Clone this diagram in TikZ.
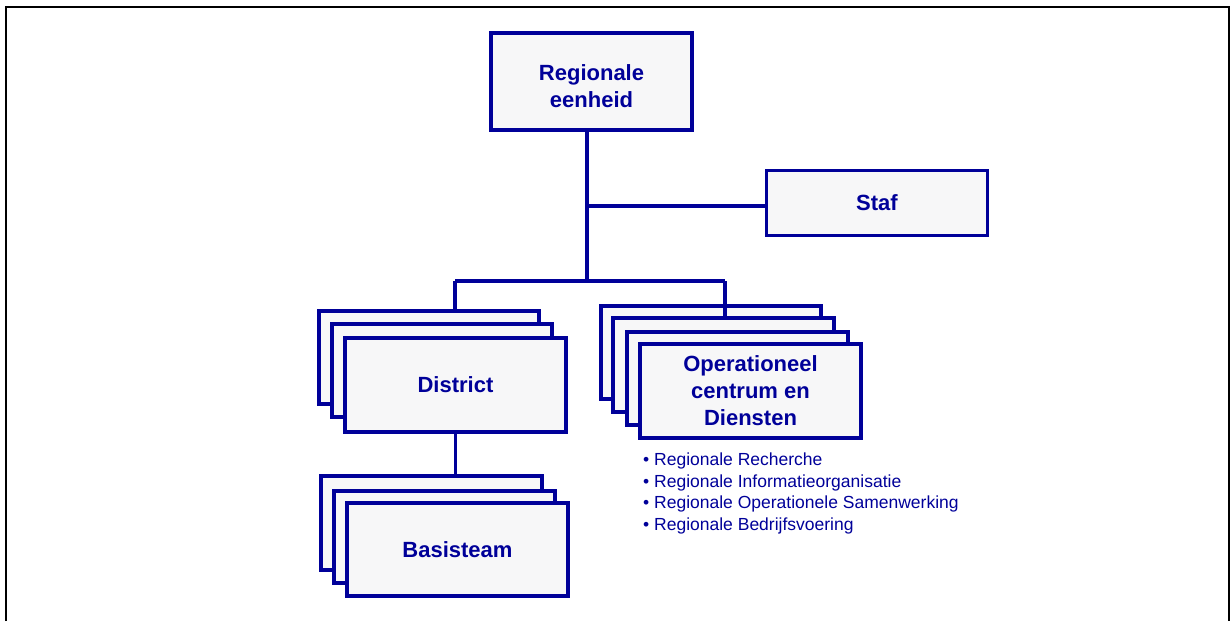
\documentclass[tikz,border=0pt]{standalone}
\usepackage{fontspec}
\setmainfont{Liberation Sans}
\definecolor{orgblue}{HTML}{000099}
\definecolor{boxfill}{HTML}{F7F7F8}
\begin{document}
\begin{tikzpicture}[x=1pt,y=-1pt,
  orgbox/.style={draw=orgblue,fill=boxfill,line width=3.5pt,rectangle,
    inner sep=0pt,text=orgblue,align=center,
    font=\bfseries\fontsize{22}{27}\selectfont},
  boxtext/.style={inner sep=0pt,text=orgblue,align=center,
    font=\bfseries\fontsize{22}{27}\selectfont},
  link/.style={draw=orgblue,line width=3.5pt}]
\useasboundingbox (0,0) rectangle (1230,621);
% outer frame
\draw[line width=2pt,black] (6,621) -- (6,7) -- (1229,7) -- (1229,621);

% top unit and staff
\node[orgbox,minimum width=201pt,minimum height=97pt] (re) at (591.5,81.5) {};
\node[boxtext] (retext) at ([yshift=-5pt]re.center) {Regionale\\eenheid};
\node[orgbox,minimum width=221pt,minimum height=65pt] (staf) at (877,203) {Staf};
\coordinate (jstaf) at (587,206);
\coordinate (jbar) at (587,281);
\coordinate (bl) at (455,281);
\coordinate (br) at (725,281);
\draw[link] (re.south -| jbar) -- (jbar);
\draw[link] (jstaf) -- (jstaf -| staf.west);
\draw[link] (bl) -- (br);

% district stack
\node[orgbox,minimum width=220pt,minimum height=93pt] (d1) at (429,357.5) {};
\node[orgbox,minimum width=220pt,minimum height=93pt] (d2) at (442,370.5) {};
\node[orgbox,minimum width=221pt,minimum height=94pt] (d3) at (455.5,385) {District};
\draw[link] (bl) -- (bl |- d1.north);

% basisteam stack
\node[orgbox,minimum width=221pt,minimum height=94pt] (b1) at (431.5,523) {};
\node[orgbox,minimum width=221pt,minimum height=92pt] (b2) at (444.5,537) {};
\node[orgbox,minimum width=221pt,minimum height=93pt] (b3) at (457.5,549.5) {Basisteam};
\draw[link] (d3.south) -- (d3.south |- b1.north);

% operational centre stack
\node[orgbox,minimum width=220pt,minimum height=93pt] (o1) at (711,352.5) {};
\draw[link] (br) -- (br |- o1.center);
\node[orgbox,minimum width=221pt,minimum height=94pt] (o2) at (723.5,365) {};
\node[orgbox,minimum width=221pt,minimum height=93pt] (o3) at (737.5,378.5) {};
\node[orgbox,minimum width=221pt,minimum height=94pt] (o4) at (750.5,391) {Operationeel\\centrum en\\Diensten};

% services list
\node[anchor=north west,inner sep=0pt,align=left,text=orgblue,
  font=\fontsize{17.5}{21.5}\selectfont] (list) at (643,453)
  {• Regionale Recherche\\
   • Regionale Informatieorganisatie\\
   • Regionale Operationele Samenwerking\\
   • Regionale Bedrijfsvoering};
\end{tikzpicture}
\end{document}
